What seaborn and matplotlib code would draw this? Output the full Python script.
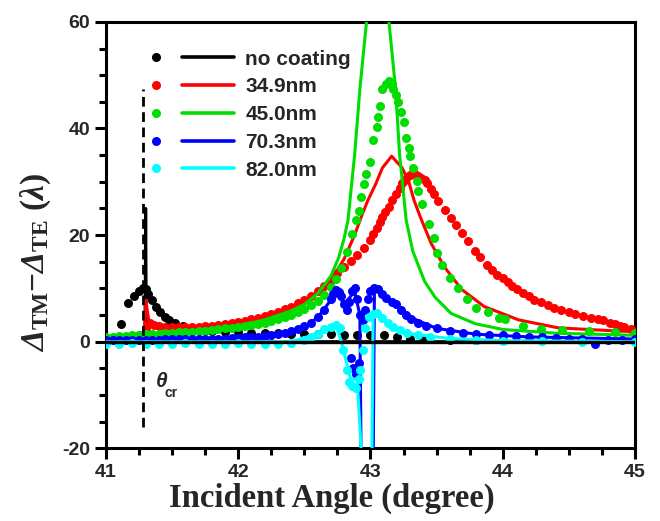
import numpy as np
import pandas as pd
import seaborn as sns
import matplotlib.pyplot as plt
import matplotlib.ticker as ticker
from matplotlib.lines import Line2D
from matplotlib.legend_handler import HandlerTuple

# --- measured points (read off the reference) ---
# no coating
nc_dot_x = [41.11, 41.17, 41.21, 41.25, 41.28, 41.30, 41.32, 41.35, 41.38, 41.41, 41.45, 41.48,
            41.52, 41.58, 41.65, 41.71, 41.80, 41.90, 42.00, 42.10, 42.20, 42.30, 42.40, 42.50,
            42.60, 42.70, 42.80, 42.90, 43.00, 43.10, 43.20, 43.30, 43.40, 43.60, 43.80, 44.00,
            44.30, 44.60, 45.00]
nc_dot_y = [3.4, 7.2, 8.5, 9.6, 10.0, 9.8, 9.0, 7.8, 6.6, 5.6, 4.6, 4.0,
            3.5, 3.0, 2.6, 2.3, 2.0, 1.9, 1.8, 1.7, 1.6, 1.6, 1.5, 1.5,
            1.4, 1.4, 1.3, 1.3, 1.3, 1.2, 0.8, 0.6, 0.5, 0.4, 0.4, 0.3,
            0.3, 0.3, 0.3]
nc_line_x = [41.00, 41.295, 41.30, 41.305, 45.00]
nc_line_y = [0.0, 0.0, 25.0, 0.0, 0.0]

# 34.9 nm
r_dot_x = [41.00, 41.05, 41.10, 41.15, 41.20, 41.25, 41.30, 41.33, 41.36, 41.40, 41.45, 41.50,
           41.55, 41.60, 41.65, 41.70, 41.75, 41.80, 41.85, 41.90, 41.95, 42.00, 42.05, 42.10,
           42.15, 42.20, 42.25, 42.30, 42.35, 42.40, 42.45, 42.50, 42.55, 42.60, 42.65, 42.70,
           42.75, 42.80, 42.85, 42.90, 42.95, 43.00, 43.02, 43.05, 43.07, 43.09, 43.11, 43.14,
           43.16, 43.19, 43.22, 43.24,
           43.26, 43.28, 43.30, 43.32, 43.34, 43.36, 43.38, 43.41, 43.43, 43.46, 43.48, 43.51,
           43.56, 43.61, 43.65, 43.69, 43.74, 43.79, 43.83, 43.88, 43.92, 43.96, 44.00, 44.04,
           44.07, 44.11, 44.15, 44.20, 44.24, 44.29, 44.34, 44.39, 44.44, 44.50, 44.55, 44.61,
           44.67, 44.72, 44.76, 44.81, 44.85, 44.89, 44.92, 44.97]
r_dot_y = [0.5, 0.6, 0.7, 0.8, 1.0, 1.2, 2.5, 3.6, 3.2, 3.0, 2.8, 2.7,
           2.7, 2.7, 2.8, 2.8, 2.9, 3.0, 3.1, 3.3, 3.5, 3.7, 3.9, 4.2,
           4.5, 4.8, 5.2, 5.6, 6.1, 6.6, 7.2, 7.8, 8.6, 9.5, 10.5, 11.6,
           12.8, 14.0, 15.1, 16.3, 17.6, 19.1, 20.2, 21.3, 22.4, 23.4, 24.4, 25.3,
           26.5, 27.8, 28.9, 29.7,
           30.3, 30.9, 31.2, 31.5, 31.4, 31.1, 30.8, 30.3, 29.7, 28.7, 27.8, 26.4,
           24.7, 23.3, 21.9, 20.4, 18.9, 17.1, 15.9, 14.4, 13.4, 12.6, 11.9, 11.2,
           10.5, 9.8, 9.1, 8.5, 7.9, 7.4, 6.9, 6.4, 6.0, 5.6, 5.2, 4.85,
           4.5, 4.25, 4.0, 3.6, 3.3, 3.0, 2.8, 2.4]
r_line_x = [41.00, 41.29, 41.30, 41.33, 41.50, 41.80, 42.00, 42.20, 42.40, 42.60, 42.70, 42.80,
            42.88, 42.93, 42.98, 43.04, 43.09, 43.16, 43.24, 43.29, 43.33, 43.38, 43.46, 43.56,
            43.69, 43.86, 44.12, 44.42, 44.87, 45.00]
r_line_y = [0.8, 1.2, 7.8, 3.0, 2.6, 2.8, 3.3, 4.2, 5.8, 9.0, 11.5, 15.5,
            20.0, 23.4, 26.5, 29.6, 32.6, 34.8, 32.6, 30.0, 26.5, 23.2, 18.4, 14.0,
            9.8, 6.6, 4.1, 2.6, 2.0, 1.9]

# 45.0 nm
g_dot_x = [41.00, 41.05, 41.10, 41.15, 41.20, 41.25, 41.30, 41.35, 41.40, 41.45, 41.50, 41.55,
           41.60, 41.65, 41.70, 41.75, 41.80, 41.85, 41.90, 41.95, 42.00, 42.05, 42.10, 42.15,
           42.20, 42.25, 42.30, 42.35, 42.40, 42.45, 42.50, 42.55, 42.60, 42.65, 42.70, 42.74,
           42.78, 42.82, 42.86, 42.89, 42.91, 42.93, 42.95, 42.97, 43.00, 43.02, 43.05, 43.06,
           43.07, 43.09, 43.12, 43.14, 43.16, 43.17, 43.19, 43.21, 43.23, 43.25, 43.27, 43.29,
           43.30, 43.32, 43.35, 43.36, 43.39, 43.44, 43.48, 43.50, 43.54, 43.60, 43.66, 43.73,
           43.80, 43.89, 43.97, 44.02, 44.15, 44.29, 44.45, 44.65, 44.85, 45.00]
g_dot_y = [0.9, 0.9, 1.0, 1.1, 1.2, 1.3, 1.4, 1.4, 1.5, 1.6, 1.7, 1.8,
           1.8, 1.9, 2.0, 2.1, 2.2, 2.3, 2.5, 2.6, 2.8, 2.9, 3.1, 3.3,
           3.6, 3.9, 4.2, 4.6, 5.0, 5.5, 6.1, 6.8, 7.7, 8.8, 10.3, 11.8,
           13.8, 16.8, 20.3, 22.8, 24.6, 27.1, 29.6, 31.4, 33.8, 37.8, 40.3, 42.2,
           44.3, 47.4, 48.4, 49.0, 48.4, 47.4, 46.3, 45.0, 43.1, 41.3, 38.2, 36.3,
           34.8, 32.6, 30.2, 28.3, 25.8, 22.1, 19.4, 16.6, 14.4, 12.0, 10.1, 8.1,
           6.4, 5.5, 4.5, 4.2, 3.0, 2.4, 2.2, 2.1, 1.8, 1.6]
g_line_x = [41.00, 41.30, 41.50, 42.00, 42.20, 42.40, 42.50, 42.60, 42.70, 42.76, 42.80, 42.83,
            42.88, 42.92, 42.97, 43.01, 43.05, 43.09, 43.14, 43.19, 43.22, 43.27, 43.32, 43.37,
            43.41, 43.49, 43.61, 43.79, 44.00, 44.40, 45.00]
g_line_y = [0.8, 1.3, 1.6, 3.0, 4.1, 5.8, 7.0, 9.0, 12.3, 15.8, 19.3, 22.8,
            35.0, 47.4, 60.0, 75.0, 85.0, 75.0, 60.0, 47.4, 35.2, 22.8, 17.0, 13.8,
            11.3, 8.3, 5.3, 3.4, 2.3, 1.6, 1.2]

# 70.3 nm
b_dot_x = [41.00, 41.05, 41.10, 41.15, 41.20, 41.25, 41.30, 41.35, 41.40, 41.45, 41.50, 41.55,
           41.60, 41.65, 41.70, 41.75, 41.80, 41.85, 41.90, 41.95, 42.00, 42.05, 42.10, 42.15,
           42.20, 42.25, 42.30, 42.35, 42.40, 42.45, 42.50, 42.55, 42.60, 42.65, 42.70, 42.72,
           42.74, 42.76, 42.78, 42.80, 42.82, 42.84, 42.85, 42.86, 42.87, 42.88, 42.89, 42.90,
           42.91, 42.92, 42.94, 42.96, 42.98, 43.00, 43.03, 43.06, 43.09, 43.12, 43.16, 43.19,
           43.23, 43.27, 43.31, 43.36, 43.42, 43.50, 43.60, 43.70, 43.80, 43.90, 44.00, 44.10,
           44.20, 44.30, 44.40, 44.50, 44.60, 44.70, 44.80, 44.90, 45.00]
b_dot_y = [0.3, 0.3, 0.3, 0.3, 0.4, 0.4, 0.4, 0.4, 0.4, 0.5, 0.5, 0.5,
           0.5, 0.5, 0.5, 0.6, 0.6, 0.6, 0.6, 0.7, 0.7, 0.8, 0.8, 0.9,
           1.0, 1.2, 1.4, 1.7, 2.0, 2.4, 2.9, 3.6, 4.6, 6.0, 8.0, 9.0,
           9.7, 9.4, 8.5, 7.0, 6.0, 7.5, -3.0, 9.5, -5.0, 10.0, -6.0, 8.0,
           -4.0, 5.0, 4.0, 6.0, 8.0, 9.5, 10.0, 9.8, 9.0, 8.2, 7.5, 7.0,
           6.0, 5.0, 4.3, 3.6, 3.0, 2.5, 2.0, 1.7, 1.5, 1.3, 1.2, 1.0,
           0.9, 0.8, 0.7, 0.6, 0.5, -0.4, 0.4, 0.4, 0.6]
b_line_x = [41.00, 41.50, 42.00, 42.30, 42.50, 42.60, 42.70, 42.75, 42.80, 42.85, 42.88, 42.92,
            42.93, 43.02, 43.03, 43.06, 43.12, 43.20, 43.30, 43.50, 43.80, 44.20, 45.00]
b_line_y = [0.3, 0.5, 0.7, 1.3, 2.8, 4.5, 7.8, 9.2, 7.0, 8.5, 9.5, 5.0,
            -25.0, -25.0, 9.5, 9.6, 8.2, 6.8, 4.6, 2.5, 1.4, 0.9, 0.5]

# 82.0 nm
c_dot_x = [41.00, 41.10, 41.20, 41.30, 41.40, 41.50, 41.60, 41.70, 41.80, 41.90, 42.00, 42.10,
           42.20, 42.30, 42.40, 42.50, 42.55, 42.60, 42.65, 42.70, 42.74, 42.77, 42.79, 42.82,
           42.84, 42.86, 42.89, 42.91, 42.92, 42.94, 42.96, 42.99, 43.02, 43.05, 43.09, 43.13,
           43.17, 43.22, 43.28, 43.36, 43.45, 43.60, 43.80, 44.00, 44.30, 44.60, 45.00]
c_dot_y = [-0.4, -0.5, -0.3, -0.5, -0.4, -0.5, -0.3, -0.5, -0.4, -0.5, -0.3, -0.5,
           -0.4, -0.5, -0.2, 0.3, 0.8, 1.5, 2.3, 2.8, 3.1, 2.5, -1.6, -5.3,
           -7.5, -8.4, -8.7, -7.0, -5.3, -1.6, 2.5, 4.7, 5.2, 5.3, 4.5, 3.6,
           2.8, 2.2, 1.6, 1.2, 0.9, 0.6, 0.4, 0.2, 0.1, 0.0, 0.0]
c_line_x = [41.00, 42.40, 42.60, 42.74, 42.78, 42.85, 42.90, 42.94, 43.01, 43.02, 43.05, 43.15,
            43.30, 43.60, 44.00, 45.00]
c_line_y = [0.0, 0.0, 1.5, 3.0, 0.0, -7.0, -7.0, -25.0, -25.0, 5.0, 5.2, 3.0,
            1.5, 0.6, 0.2, 0.0]

labels = ['no coating', '34.9nm', '45.0nm', '70.3nm', '82.0nm']
colors = ['#000000', '#ff0000', '#00dd00', '#0000ff', '#00ffff']
theta_cr = 41.28

sns.set_style('ticks')
plt.rcParams['font.family'] = ['Liberation Sans', 'DejaVu Sans']
plt.rcParams['axes.unicode_minus'] = False
plt.rcParams['axes.linewidth'] = 2.2
plt.rcParams['mathtext.fontset'] = 'custom'
plt.rcParams['mathtext.rm'] = 'Liberation Serif:bold'
plt.rcParams['mathtext.it'] = 'Liberation Serif:italic:bold'
# italic capital Greek goes through the sf slot (it forces capital Greek upright)
plt.rcParams['mathtext.sf'] = 'Liberation Serif:italic:bold'

fig, ax = plt.subplots(figsize=(6.6, 5.21), dpi=100)
plt.subplots_adjust(left=0.1606, right=0.962, top=0.958, bottom=0.1395)

series = [(nc_dot_x, nc_dot_y, nc_line_x, nc_line_y),
          (r_dot_x, r_dot_y, r_line_x, r_line_y),
          (g_dot_x, g_dot_y, g_line_x, g_line_y),
          (b_dot_x, b_dot_y, b_line_x, b_line_y),
          (c_dot_x, c_dot_y, c_line_x, c_line_y)]

handles = []
for i, (dx, dy, lx, ly) in enumerate(series):
    z = 3 + i
    sns.scatterplot(x=dx, y=dy, color=colors[i], s=42, linewidth=0, ax=ax, zorder=z)
    sns.lineplot(x=lx, y=ly, color=colors[i], lw=2.2, estimator=None, sort=False, ax=ax, zorder=z)
    dot = Line2D([], [], ls='none', marker='o', ms=6.5, mfc=colors[i], mec='none')
    ln = Line2D([], [], color=colors[i], lw=2.6)
    handles.append((dot, ln))

# zero baseline of the no-coating trace sits on top
ax.plot([41, 45], [0, 0], color='black', lw=2.4, zorder=10)

# critical angle marker
ax.plot([theta_cr, theta_cr], [-16, 47.5], color='black', lw=2.0, ls=(0, (3.5, 2)), zorder=11)
ax.text(41.375, -7.4, 'θ', fontsize=15, fontweight='bold', style='italic', ha='left', va='center')
ax.text(41.445, -9.7, 'cr', fontsize=10, fontweight='bold', ha='left', va='center')

ax.set_xlim(41, 45)
ax.set_ylim(-20, 60)
ax.xaxis.set_major_locator(ticker.MultipleLocator(1))
ax.xaxis.set_minor_locator(ticker.MultipleLocator(0.25))
ax.yaxis.set_major_locator(ticker.MultipleLocator(20))
ax.yaxis.set_minor_locator(ticker.MultipleLocator(5))
ax.tick_params(which='major', direction='out', length=8, width=2.2, color='black', labelsize=14)
ax.tick_params(which='minor', direction='out', length=5, width=2.2, color='black')
for lab in ax.get_xticklabels() + ax.get_yticklabels():
    lab.set_fontweight('bold')
for sp in ax.spines.values():
    sp.set_linewidth(2.2)
    sp.set_color('black')
    sp.set_visible(True)

ax.set_xlabel('Incident Angle (degree)', fontsize=23.5, fontweight='bold', family='Liberation Serif')
ax.xaxis.set_label_coords(0.427, -0.08)
ax.set_ylabel(r'$\mathsf{Δ}_{\mathrm{TM}}\mathrm{-}\mathsf{Δ}_{\mathrm{TE}}\ (\mathit{λ})$',
              fontsize=24)
ax.yaxis.set_label_coords(-0.1, 0.437)

ax.legend(handles, labels, handler_map={tuple: HandlerTuple(ndivide=None, pad=0.0)},
          loc='upper left', bbox_to_anchor=(0.045, 0.935), frameon=False,
          handlelength=5.0, handletextpad=0.55, labelspacing=0.42, borderpad=0, borderaxespad=0,
          prop={'family': 'Liberation Sans', 'weight': 'bold', 'size': 15})

plt.savefig('out.png', dpi=100)
